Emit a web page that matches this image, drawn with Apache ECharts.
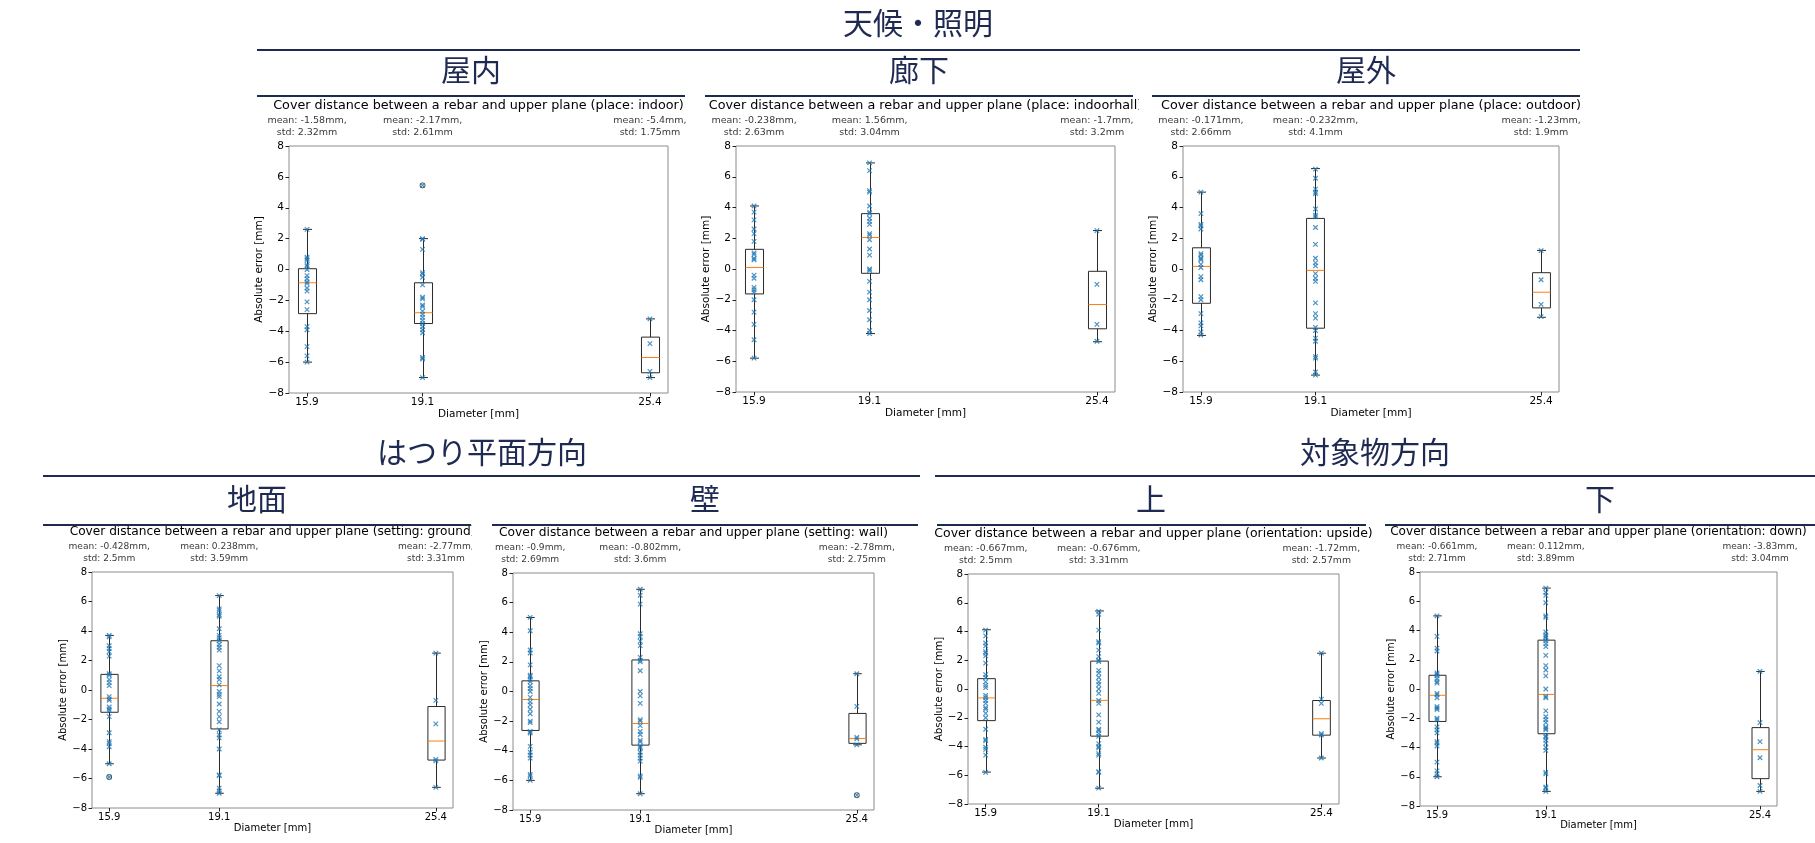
<!DOCTYPE html>
<html>
<head>
<meta charset="utf-8">
<script src="https://cdn.jsdelivr.net/npm/echarts@6/dist/echarts.min.js"></script>
<style>
html,body{margin:0;padding:0;background:#fff;}
#chart{width:1815px;height:843px;}
</style>
</head>
<body>
<div id="chart"></div>
<script>
// ---------------- data ----------------
const diameters = [15.9, 19.1, 25.4];

const titles = [
  'Cover distance between a rebar and upper plane (place: indoor)',
  'Cover distance between a rebar and upper plane (place: indoorhall)',
  'Cover distance between a rebar and upper plane (place: outdoor)',
  'Cover distance between a rebar and upper plane (setting: ground)',
  'Cover distance between a rebar and upper plane (setting: wall)',
  'Cover distance between a rebar and upper plane (orientation: upside)',
  'Cover distance between a rebar and upper plane (orientation: down)'
];

// box stats per diameter: [lower whisker, Q1, median, Q3, upper whisker]
const indoorBox = [[-6.0, -2.86, -0.86, 0.05, 2.6], [-7.0, -3.5, -2.8, -0.86, 2.0], [-7.0, -6.69, -5.7, -4.38, -3.2]];
const hallBox   = [[-5.8, -1.62, 0.1, 1.28, 4.1], [-4.2, -0.28, 2.05, 3.6, 6.9], [-4.73, -3.89, -2.31, -0.15, 2.5]];
const outBox    = [[-4.32, -2.23, 0.17, 1.38, 5.0], [-6.9, -3.85, -0.09, 3.29, 6.53], [-3.14, -2.53, -1.51, -0.24, 1.21]];
const groundBox = [[-5.0, -1.51, -0.56, 1.06, 3.7], [-7.0, -2.64, 0.3, 3.34, 6.4], [-6.6, -4.75, -3.46, -1.12, 2.5]];
const wallBox   = [[-6.0, -2.63, -0.54, 0.72, 5.0], [-6.9, -3.62, -2.16, 2.13, 6.9], [-3.6, -3.5, -3.17, -1.48, 1.2]];
const upBox     = [[-5.78, -2.2, -0.62, 0.72, 4.12], [-6.9, -3.28, -0.79, 1.94, 5.43], [-4.8, -3.21, -2.07, -0.8, 2.49]];
const downBox   = [[-6.0, -2.22, -0.43, 0.94, 5.0], [-7.0, -3.06, -0.37, 3.34, 6.9], [-7.0, -6.13, -4.15, -2.64, 1.2]];

// individual measurements per diameter
const indoorPts = [
  [2.6, 0.8, 0.7, 0.6, 0.3, 0.2, 0.0, -0.4, -0.6, -0.8, -0.9, -1.2, -1.4, -2.1, -2.6, -3.7, -3.9, -5.0, -5.6, -6.0],
  [5.45, 2.0, 1.95, 1.3, -0.2, -0.3, -0.5, -1.0, -1.8, -1.9, -2.3, -2.4, -2.7, -2.9, -3.1, -3.3, -3.5, -3.7, -3.9, -4.1, -5.7, -5.8, -7.0],
  [-3.2, -4.8, -6.6, -7.0]
];
const hallPts = [
  [4.1, 3.7, 3.2, 2.6, 2.3, 1.8, 1.05, 0.95, 0.7, 0.6, -0.4, -0.6, -1.2, -1.35, -1.5, -2.0, -2.8, -3.6, -4.6, -5.8],
  [6.9, 6.4, 5.1, 5.0, 4.1, 3.7, 3.6, 3.3, 3.1, 2.9, 2.3, 2.2, 1.9, 1.3, 0.9, 0.0, -0.1, -0.8, -1.5, -2.0, -2.7, -3.3, -4.0, -4.2],
  [2.5, -1.0, -3.6, -4.7]
];
const outPts = [
  [5.0, 3.6, 2.9, 2.8, 2.6, 1.0, 0.9, 0.7, 0.6, 0.3, 0.1, -0.5, -0.7, -1.8, -2.0, -2.9, -3.5, -3.7, -4.1, -4.3],
  [6.5, 5.9, 5.2, 5.0, 4.9, 3.9, 3.5, 3.4, 2.7, 1.6, 0.7, 0.4, 0.2, -0.3, -0.6, -0.8, -2.2, -2.9, -3.2, -3.8, -4.0, -4.5, -4.7, -5.7, -5.8, -6.7, -6.9],
  [1.2, -0.7, -2.3, -3.1]
];
const groundPts = [
  [3.7, 3.6, 3.0, 2.8, 2.6, 2.3, 1.1, 1.0, 0.7, 0.5, 0.3, -0.45, -0.6, -0.7, -1.15, -1.3, -1.4, -1.8, -2.9, -3.5, -3.6, -3.85, -5.0, -5.9],
  [6.4, 5.5, 5.4, 5.1, 5.0, 4.15, 3.7, 3.55, 3.35, 3.1, 2.9, 2.7, 1.65, 1.3, 0.9, 0.7, 0.35, -0.1, -0.3, -0.45, -0.95, -1.45, -1.8, -2.15, -2.7, -3.05, -3.25, -4.0, -5.75, -5.8, -6.65, -6.85, -7.0],
  [2.5, -0.7, -2.3, -4.7, -4.8, -6.6]
];
const wallPts = [
  [5.0, 4.1, 2.8, 2.6, 1.8, 1.1, 1.0, 0.8, 0.65, 0.4, 0.2, 0.0, -0.4, -0.7, -0.9, -1.2, -1.5, -2.0, -2.1, -2.7, -2.8, -3.7, -4.1, -4.3, -4.5, -5.6, -5.7, -6.0],
  [6.9, 6.5, 5.9, 3.9, 3.7, 3.4, 3.1, 2.3, 2.1, 2.0, 1.4, 0.0, -0.3, -0.8, -1.9, -2.0, -2.3, -2.7, -2.9, -3.3, -3.4, -3.7, -3.8, -4.1, -4.3, -4.5, -4.7, -5.7, -5.8, -6.9],
  [1.2, -1.0, -3.1, -3.2, -3.6, -7.0]
];
const upPts = [
  [4.1, 3.7, 3.2, 3.0, 2.6, 2.5, 2.3, 1.8, 1.0, 0.8, 0.5, 0.25, 0.1, -0.45, -0.6, -0.8, -1.0, -1.3, -1.4, -1.7, -2.0, -2.8, -3.5, -3.6, -4.05, -4.2, -4.6, -5.8],
  [5.4, 5.2, 4.1, 3.3, 3.2, 2.7, 2.25, 2.0, 1.9, 1.3, 1.1, 0.8, 0.5, 0.3, 0.0, -0.3, -0.8, -1.0, -1.8, -2.3, -2.8, -2.9, -3.1, -3.3, -3.8, -4.0, -4.1, -4.5, -4.6, -5.75, -5.8, -6.9],
  [2.5, -0.7, -1.0, -3.1, -3.2, -4.8]
];
const downPts = [
  [5.0, 3.6, 2.8, 2.6, 1.1, 1.0, 0.9, 0.7, 0.5, 0.4, -0.3, -0.4, -0.6, -1.2, -1.3, -1.4, -2.0, -2.1, -2.6, -2.8, -3.0, -3.6, -3.7, -3.9, -5.0, -5.6, -5.8, -6.0],
  [6.9, 6.6, 6.4, 5.9, 5.0, 4.9, 3.9, 3.7, 3.6, 3.5, 3.3, 3.1, 2.9, 2.3, 1.6, 1.3, 0.9, 0.0, -0.5, -0.6, -1.5, -1.9, -2.1, -2.3, -2.6, -2.7, -2.8, -3.2, -3.3, -3.5, -3.7, -4.0, -4.2, -5.7, -5.8, -6.7, -6.8, -7.0],
  [1.2, -2.3, -3.6, -4.7, -6.6, -7.0]
];

// outliers (drawn as open circles)
const indoorFliers = [[], [5.45], []];
const hallFliers   = [[], [], []];
const outFliers    = [[], [], []];
const groundFliers = [[-5.9], [], []];
const wallFliers   = [[], [], [-7.0]];
const upFliers     = [[], [], []];
const downFliers   = [[], [], []];

// mean / std notes per diameter
const indoorNotes = ['mean: -1.58mm,\nstd: 2.32mm', 'mean: -2.17mm,\nstd: 2.61mm', 'mean: -5.4mm,\nstd: 1.75mm'];
const hallNotes   = ['mean: -0.238mm,\nstd: 2.63mm', 'mean: 1.56mm,\nstd: 3.04mm', 'mean: -1.7mm,\nstd: 3.2mm'];
const outNotes    = ['mean: -0.171mm,\nstd: 2.66mm', 'mean: -0.232mm,\nstd: 4.1mm', 'mean: -1.23mm,\nstd: 1.9mm'];
const groundNotes = ['mean: -0.428mm,\nstd: 2.5mm', 'mean: 0.238mm,\nstd: 3.59mm', 'mean: -2.77mm,\nstd: 3.31mm'];
const wallNotes   = ['mean: -0.9mm,\nstd: 2.69mm', 'mean: -0.802mm,\nstd: 3.6mm', 'mean: -2.78mm,\nstd: 2.75mm'];
const upNotes     = ['mean: -0.667mm,\nstd: 2.5mm', 'mean: -0.676mm,\nstd: 3.31mm', 'mean: -1.72mm,\nstd: 2.57mm'];
const downNotes   = ['mean: -0.661mm,\nstd: 2.71mm', 'mean: 0.112mm,\nstd: 3.89mm', 'mean: -3.83mm,\nstd: 3.04mm'];

// headings
const mainHeads = ['天候・照明', 'はつり平面方向', '対象物方向'];
const subHeads = ['屋内', '廊下', '屋外', '地面', '壁', '上', '下'];

// ---------------- layout (pixels) ----------------
const plotRects = [
  {left: 289, top: 146, width: 379, height: 247, s: 1},
  {left: 736, top: 146, width: 379, height: 246, s: 1},
  {left: 1183, top: 146, width: 376, height: 246, s: 1},
  {left: 92, top: 572, width: 361, height: 236, s: 0.955},
  {left: 513, top: 573, width: 361, height: 237, s: 0.96},
  {left: 968, top: 574, width: 371, height: 230, s: 0.98},
  {left: 1420, top: 572, width: 357, height: 234, s: 0.948}
];
const mainHeadPos = [[918, 23], [482, 452], [1375, 452]];
const mainLines = [[257, 1580, 50], [43, 920, 476], [935, 1815, 476]];
const subHeadPos = [[471, 70], [919, 70], [1366, 70], [257, 499], [705, 499], [1151, 499], [1600, 499]];
const subLines = [[257, 685, 96], [705, 1133, 96], [1152, 1580, 96], [43, 471, 525], [492, 918, 525], [937, 1366, 525], [1385, 1815, 525]];

const panels = [
  {box: indoorBox, pts: indoorPts, fl: indoorFliers, notes: indoorNotes},
  {box: hallBox, pts: hallPts, fl: hallFliers, notes: hallNotes},
  {box: outBox, pts: outPts, fl: outFliers, notes: outNotes},
  {box: groundBox, pts: groundPts, fl: groundFliers, notes: groundNotes},
  {box: wallBox, pts: wallPts, fl: wallFliers, notes: wallNotes},
  {box: upBox, pts: upPts, fl: upFliers, notes: upNotes},
  {box: downBox, pts: downPts, fl: downFliers, notes: downNotes}
];

const FONT = '"DejaVu Sans"';
const JP = '"Noto Sans CJK JP"';
const NAVY = '#1f2a52';
const XSYM = 'path://M0,0L10,10M10,0L0,10';
const minus = v => (v < 0 ? '\u2212' + Math.abs(v) : String(v));

function renderBox(params, api) {
  const x = api.value(0);
  const lo = api.coord([x, api.value(1)]);
  const q1 = api.coord([x, api.value(2)]);
  const md = api.coord([x, api.value(3)]);
  const q3 = api.coord([x, api.value(4)]);
  const hi = api.coord([x, api.value(5)]);
  const w = api.size([0.5, 0])[0];
  const cx = Math.round(lo[0]) + 0.5;
  const hw = w / 2, ch = w / 4;
  const ls = {stroke: '#2a2a2a', lineWidth: 1, fill: null};
  return {
    type: 'group',
    children: [
      {type: 'line', shape: {x1: cx, y1: hi[1], x2: cx, y2: q3[1]}, style: ls},
      {type: 'line', shape: {x1: cx, y1: q1[1], x2: cx, y2: lo[1]}, style: ls},
      {type: 'line', shape: {x1: cx - ch, y1: hi[1], x2: cx + ch, y2: hi[1]}, style: ls},
      {type: 'line', shape: {x1: cx - ch, y1: lo[1], x2: cx + ch, y2: lo[1]}, style: ls},
      {type: 'rect', shape: {x: cx - hw, y: q3[1], width: w, height: q1[1] - q3[1]}, style: {stroke: '#2a2a2a', lineWidth: 1, fill: null}},
      {type: 'line', shape: {x1: cx - hw, y1: md[1], x2: cx + hw, y2: md[1]}, style: {stroke: '#ff7f0e', lineWidth: 1}}
    ]
  };
}

const grids = [], xAxes = [], yAxes = [], series = [], graphics = [];

panels.forEach((p, i) => {
  const R = plotRects[i];
  const s = R.s;
  grids.push({left: R.left, top: R.top, width: R.width, height: R.height, show: true,
    borderColor: '#8c8c8c', borderWidth: 1, backgroundColor: 'transparent',
    containLabel: false, outerBoundsMode: 'none'});
  xAxes.push({
    type: 'value', gridIndex: i, min: 15.4, max: 25.9,
    name: 'Diameter [mm]', nameLocation: 'middle', nameGap: 14 * s,
    nameTextStyle: {fontFamily: FONT, fontSize: 10.5 * s, color: '#000'},
    axisLine: {show: false, onZero: false}, splitLine: {show: false},
    axisTick: {show: true, length: 3.5, lineStyle: {color: '#222'}, customValues: diameters},
    axisLabel: {customValues: diameters, margin: 4, fontFamily: FONT, fontSize: 10.5 * s, color: '#000',
      formatter: v => Number(v).toFixed(1)}
  });
  yAxes.push({
    type: 'value', gridIndex: i, min: -8, max: 8, interval: 2,
    name: 'Absolute error [mm]', nameLocation: 'middle', nameGap: 19 * s, nameRotate: 90,
    nameTextStyle: {fontFamily: FONT, fontSize: 10.5 * s, color: '#000'},
    axisLine: {show: false, onZero: false}, splitLine: {show: false},
    axisTick: {show: true, length: 3.5, lineStyle: {color: '#222'}},
    axisLabel: {margin: 5, fontFamily: FONT, fontSize: 10.5 * s, color: '#000', formatter: minus}
  });
  series.push({
    type: 'custom', xAxisIndex: i, yAxisIndex: i, silent: true, clip: false, z: 2,
    data: p.box.map((b, k) => [diameters[k]].concat(b)),
    encode: {x: 0, y: [1, 2, 3, 4, 5]},
    renderItem: renderBox
  });
  const pts = [];
  p.pts.forEach((arr, k) => arr.forEach(v => pts.push([diameters[k], v])));
  series.push({
    type: 'scatter', xAxisIndex: i, yAxisIndex: i, silent: true, z: 4,
    data: pts, symbol: XSYM, symbolSize: 4.5,
    itemStyle: {color: '#1f77b4', borderColor: '#1f77b4', borderWidth: 1.2}
  });
  const fl = [];
  p.fl.forEach((arr, k) => arr.forEach(v => fl.push([diameters[k], v])));
  series.push({
    type: 'scatter', xAxisIndex: i, yAxisIndex: i, silent: true, z: 3,
    data: fl, symbol: 'circle', symbolSize: 5,
    itemStyle: {color: 'rgba(0,0,0,0)', borderColor: '#222', borderWidth: 1}
  });
  series.push({
    type: 'scatter', xAxisIndex: i, yAxisIndex: i, silent: true, z: 5, clip: false,
    data: diameters.map(d => [d, 8]), symbolSize: 0,
    itemStyle: {color: 'rgba(0,0,0,0)'},
    label: {show: true, position: 'top', distance: 7, align: 'center',
      formatter: prm => p.notes[prm.dataIndex],
      fontFamily: FONT, fontSize: 9.5 * s, lineHeight: 12, color: '#000'}
  });
  graphics.push({
    type: 'text', x: R.left + R.width / 2, y: R.top - 40,
    style: {text: titles[i], fill: '#000', font: (12.75 * s).toFixed(2) + 'px ' + FONT,
      textAlign: 'center', textVerticalAlign: 'middle', align: 'center', verticalAlign: 'middle'}
  });
});

mainHeads.forEach((t, i) => {
  graphics.push({type: 'text', x: mainHeadPos[i][0], y: mainHeadPos[i][1],
    style: {text: t, fill: NAVY, font: '30px ' + JP,
      textAlign: 'center', textVerticalAlign: 'middle', align: 'center', verticalAlign: 'middle'}});
});
subHeads.forEach((t, i) => {
  graphics.push({type: 'text', x: subHeadPos[i][0], y: subHeadPos[i][1],
    style: {text: t, fill: NAVY, font: '30px ' + JP,
      textAlign: 'center', textVerticalAlign: 'middle', align: 'center', verticalAlign: 'middle'}});
});
mainLines.concat(subLines).forEach(l => {
  graphics.push({type: 'line', shape: {x1: l[0], y1: l[2], x2: l[1], y2: l[2]},
    style: {stroke: NAVY, lineWidth: 2}});
});
// panel clipping (text overflowing a sub-figure is cut at its edge)
graphics.push({type: 'rect', z: 100, shape: {x: 472, y: 518, width: 17, height: 46}, style: {fill: '#fff'}});
graphics.push({type: 'rect', z: 100, shape: {x: 1139, y: 97, width: 11, height: 17}, style: {fill: '#fff'}});

const chart = echarts.init(document.getElementById('chart'), null, {renderer: 'canvas'});
chart.setOption({
  animation: false,
  backgroundColor: '#ffffff',
  textStyle: {fontFamily: FONT},
  grid: grids,
  xAxis: xAxes,
  yAxis: yAxes,
  series: series,
  graphic: {elements: graphics}
});
</script>
</body>
</html>
